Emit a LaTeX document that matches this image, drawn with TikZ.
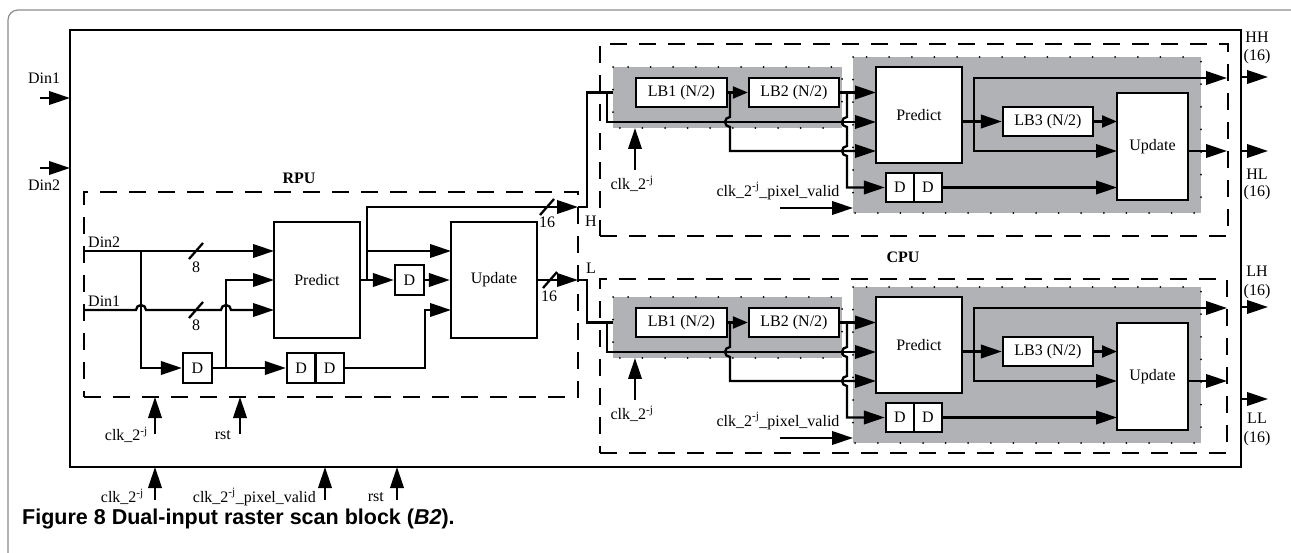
\documentclass[tikz,border=0pt]{standalone}
\usepackage{fontspec}
\setmainfont{Liberation Serif}
\newfontfamily\capfont{Liberation Sans}
\usetikzlibrary{arrows.meta}
\definecolor{regiongray}{RGB}{177,178,182}
\definecolor{framegray}{RGB}{140,140,140}
\newcommand\figfs{\fontsize{16}{19}\selectfont}
\begin{document}
\begin{tikzpicture}[x=1pt,y=-1pt,
  arr/.style={line width=2.3pt,-{Triangle[length=21pt,width=13.5pt]}},
  sarr/.style={line width=2.3pt,-{Triangle[length=15pt,width=12pt]}},
  wire/.style={line width=2.3pt},
  blk/.style={draw,line width=2.3pt,fill=white,inner sep=0pt,font=\figfs},
  dbox/.style={draw,line width=2.8pt,dash pattern=on 17pt off 12pt,inner sep=0pt},
  region/.style={fill=regiongray,draw=black,line width=2pt,dash pattern=on 0pt off 22.6pt,line cap=round},
  lbl/.style={font=\figfs,inner sep=0pt},
  bld/.style={font=\figfs\bfseries,inner sep=0pt}
]
\useasboundingbox (0,0) rectangle (1291,553);
% page frame
\draw[framegray,line width=1.2pt,rounded corners=10pt] (8,553) -- (8,10) -- (1291,10);
% main box
\node[draw,line width=2.6pt,minimum width=1171pt,minimum height=437pt,inner sep=0pt] (main) at (655.5,248.5) {};
% inputs
\node[lbl] (ldin1) at (44,78) {Din1};
\node[lbl] (ldin2) at (44,185) {Din2};
\coordinate (din1s) at (40,98);
\coordinate (din2s) at (40,168);
\draw[arr] (din1s) -- (70,98);
\draw[arr] (din2s) -- (70,168);

% ===== RPU =====
\node[dbox,minimum width=494pt,minimum height=205pt] (rpu) at (331,294.5) {};
\node[bld] (lrpu) at (299,178) {RPU};
\node[blk,minimum width=86pt,minimum height=116pt] (rP) at (317,280) {Predict};
\node[blk,minimum width=86pt,minimum height=116pt] (rU) at (494,280) {Update};
\node[blk,minimum width=29pt,minimum height=30pt] (rD1) at (197.5,368) {D};
\node[blk,minimum width=28.5pt,minimum height=30pt] (rDa) at (301.25,368) {D};
\node[blk,minimum width=28.5pt,minimum height=30pt] (rDb) at (329.75,368) {D};
\node[blk,minimum width=29pt,minimum height=30pt] (rD2) at (409.5,280) {D};
\node[lbl,anchor=base west] (lrd2) at (88,248) {Din2};
\node[lbl,anchor=base west] (lrd1) at (88,307) {Din1};
\draw[arr] (84,251) -- (274,251);
\draw[arr] (84,310) -- (136,310) arc[start angle=180,end angle=0,radius=5pt]
   -- (221,310) arc[start angle=180,end angle=0,radius=5pt] -- (274,310);
\draw[wire] (189,259) -- (203,243);
\draw[wire] (189,318) -- (203,302);
\node[lbl] (l8a) at (196,267) {8};
\node[lbl] (l8b) at (196,325) {8};
\draw[arr] (141,251) -- (141,368) -- (rD1.west);
\draw[arr] (rD1.east) -- (rDa.west);
\draw[arr] (226,368) -- (226,280) -- (274,280);
\draw[arr] (rP.east) -- (rD2.west);
\draw[arr] (367,280) -- (367,207) -- (578,207);
\draw[arr] (367,251) -- (451,251);
\draw[arr] (rD2.east) -- (rU.west);
\draw[arr] (rDb.east) -- (425,368) -- (425,310) -- (451,310);
\draw[arr] (rU.east) -- (578,280);
\draw[wire] (540,215) -- (554,199);
\draw[wire] (543,288) -- (557,272);
\node[lbl] (l16a) at (547,222) {16};
\node[lbl] (l16b) at (549,296) {16};
% RPU clock / reset
\draw[arr] (155,434) -- (155,397);
\draw[arr] (240,434) -- (240,397);
\node[lbl,anchor=east] (lrclk) at (148,435) {clk\_2\textsuperscript{-j}};
\node[lbl,anchor=east] (lrrst) at (231,435) {rst};
% H / L
\node[lbl] (lH) at (591,221) {H};
\node[lbl] (lL) at (591,268) {L};
\draw[arr] (578,207) -- (587,207) -- (587,92.5) -- (636,92.5);
\draw[arr] (578,280) -- (587,280) -- (587,322.5) -- (636,322.5);

% ===== CPUs =====
\node[dbox,minimum width=628pt,minimum height=192pt] (cpuu) at (914,140) {};
\node[dbox,minimum width=627pt,minimum height=174pt] (cpul) at (913.5,366) {};
\node[bld] (lcpu) at (903,257) {CPU};
\foreach \o/\t in {0/u,230/l}{
  \path[region] (613,67+\o) rectangle (842,128+\o);
  \path[region] (853,57+\o) rectangle (1201,213+\o);
  \node[blk,minimum width=91pt,minimum height=29pt] (lba\t) at (681.5,92.5+\o) {LB1 (N/2)};
  \node[blk,minimum width=90pt,minimum height=29pt] (lbb\t) at (794,92.5+\o) {LB2 (N/2)};
  \node[blk,minimum width=86pt,minimum height=96pt] (cp\t) at (919,115+\o) {Predict};
  \node[blk,minimum width=90pt,minimum height=29pt] (lbc\t) at (1048,121.5+\o) {LB3 (N/2)};
  \node[blk,minimum width=71pt,minimum height=107pt] (cu\t) at (1152.5,146.5+\o) {Update};
  \node[blk,minimum width=28pt,minimum height=29pt] (cda\t) at (900,187.5+\o) {D};
  \node[blk,minimum width=28pt,minimum height=29pt] (cdb\t) at (928,187.5+\o) {D};
  \draw[arr] (607,92.5+\o) -- (607,122+\o) -- (876,122+\o);
  \draw[sarr] (lba\t.east) -- (lbb\t.west);
  \draw[arr] (730,92.5+\o) -- (730,117+\o) arc[start angle=90,end angle=270,radius=5pt]
     -- (730,151+\o) -- (876,151+\o);
  \draw[arr] (lbb\t.east) -- (876,92.5+\o);
  \draw[arr] (847,92.5+\o) -- (847,117+\o) arc[start angle=90,end angle=270,radius=5pt]
     -- (847,146+\o) arc[start angle=90,end angle=270,radius=5pt] -- (847,187.5+\o) -- (cda\t.west);
  \draw[arr] (962,121.5+\o) -- (lbc\t.west);
  \draw[arr] (974,121.5+\o) -- (974,78+\o) -- (1227,78+\o);
  \draw[arr] (974,121.5+\o) -- (974,151+\o) -- (1117,151+\o);
  \draw[sarr] (lbc\t.east) -- (1117,121.5+\o);
  \draw[arr] (1188,151+\o) -- (1227,151+\o);
  \draw[arr] (cdb\t.east) -- (1117,187.5+\o);
  \draw[arr] (635,170+\o) -- (635,128+\o);
  \node[lbl] (lcclk\t) at (632,184+\o) {clk\_2\textsuperscript{-j}};
  \draw[arr] (780,208+\o) -- (853,208+\o);
  \node[lbl] (lcpv\t) at (778,191+\o) {clk\_2\textsuperscript{-j}\_pixel\_valid};
}

% outputs
\draw[arr] (1241,77) -- (1268,77);
\draw[arr] (1241,151) -- (1268,151);
\draw[arr] (1241,307) -- (1268,307);
\draw[arr] (1241,399) -- (1268,399);
\node[lbl] (lHH) at (1257,37) {HH};
\node[lbl] (lHHn) at (1257,57) {(16)};
\node[lbl] (lHL) at (1257,174) {HL};
\node[lbl] (lHLn) at (1257,193) {(16)};
\node[lbl] (lLH) at (1257,271) {LH};
\node[lbl] (lLHn) at (1257,292) {(16)};
\node[lbl] (lLL) at (1257,418) {LL};
\node[lbl] (lLLn) at (1257,439) {(16)};

% bottom inputs
\draw[arr] (155,500) -- (155,467);
\draw[arr] (325,500) -- (325,467);
\draw[arr] (397,500) -- (397,467);
\node[lbl,anchor=east] (lbclk) at (144,497) {clk\_2\textsuperscript{-j}};
\node[lbl,anchor=east] (lbpv) at (316,497) {clk\_2\textsuperscript{-j}\_pixel\_valid};
\node[lbl,anchor=east] (lbrst) at (384,497) {rst};

% caption
\node[anchor=base west,inner sep=0pt] (cap) at (22,524)
  {\capfont\bfseries\fontsize{21.5}{25}\selectfont Figure 8 Dual-input raster scan block (\textit{B2}).};
\end{tikzpicture}
\end{document}
